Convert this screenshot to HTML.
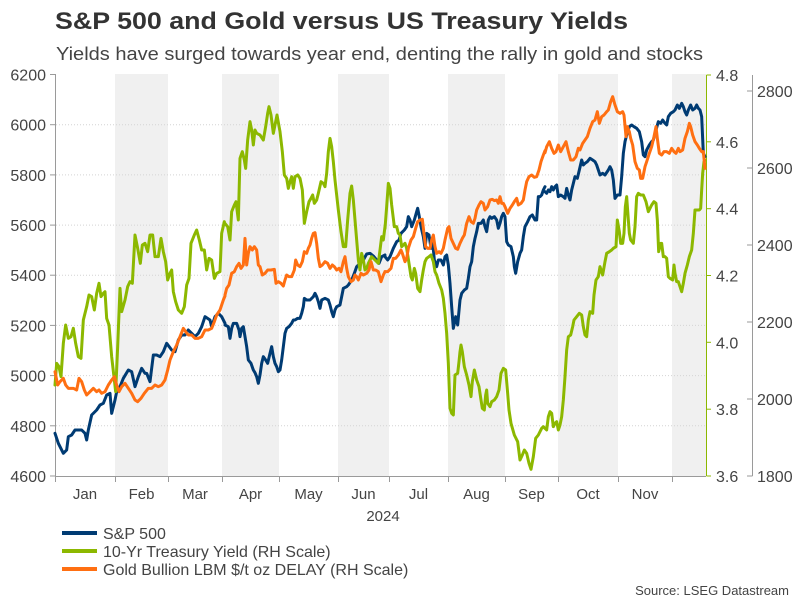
<!DOCTYPE html>
<html>
<head>
<meta charset="utf-8">
<style>
html,body{margin:0;padding:0;background:#fff;}
svg{display:block;font-family:"Liberation Sans",Arial,sans-serif;}
</style>
</head>
<body>
<svg width="801" height="601" viewBox="0 0 801 601" xmlns="http://www.w3.org/2000/svg">
<rect width="801" height="601" fill="#fff"/>
<!-- Title -->
<text x="55" y="29" font-size="24" font-weight="bold" fill="#333" textLength="573" lengthAdjust="spacingAndGlyphs">S&amp;P 500 and Gold versus US Treasury Yields</text>
<text x="56" y="60" font-size="18" fill="#444" textLength="647" lengthAdjust="spacingAndGlyphs">Yields have surged towards year end, denting the rally in gold and stocks</text>

<!-- shaded bands -->
<g fill="#f0f0f0">
<rect x="115" y="74" width="53" height="402"/>
<rect x="222" y="74" width="57" height="402"/>
<rect x="338" y="74" width="51" height="402"/>
<rect x="448" y="74" width="57" height="402"/>
<rect x="558" y="74" width="60" height="402"/>
<rect x="672" y="74" width="34" height="402"/>
</g>

<!-- grid -->
<g stroke="#d4d4d4" stroke-width="1" stroke-dasharray="1,2">
<line x1="56" x2="706" y1="124.7" y2="124.7"/>
<line x1="56" x2="706" y1="174.9" y2="174.9"/>
<line x1="56" x2="706" y1="225.1" y2="225.1"/>
<line x1="56" x2="706" y1="275.2" y2="275.2"/>
<line x1="56" x2="706" y1="325.4" y2="325.4"/>
<line x1="56" x2="706" y1="375.6" y2="375.6"/>
<line x1="56" x2="706" y1="425.8" y2="425.8"/>
</g>

<!-- left axis -->
<g stroke="#9a9a9a" stroke-width="1">
<line x1="55.5" x2="55.5" y1="74" y2="476"/>
<line x1="50" x2="55.5" y1="74.5" y2="74.5"/>
<line x1="50" x2="55.5" y1="124.7" y2="124.7"/>
<line x1="50" x2="55.5" y1="174.9" y2="174.9"/>
<line x1="50" x2="55.5" y1="225.1" y2="225.1"/>
<line x1="50" x2="55.5" y1="275.2" y2="275.2"/>
<line x1="50" x2="55.5" y1="325.4" y2="325.4"/>
<line x1="50" x2="55.5" y1="375.6" y2="375.6"/>
<line x1="50" x2="55.5" y1="425.8" y2="425.8"/>
<line x1="50" x2="55.5" y1="476" y2="476"/>
<!-- bottom axis -->
<line x1="55" x2="706" y1="476.5" y2="476.5"/>
<line x1="55.5" x2="55.5" y1="476" y2="482"/>
<line x1="115.5" x2="115.5" y1="476" y2="482"/>
<line x1="168.5" x2="168.5" y1="476" y2="482"/>
<line x1="222.5" x2="222.5" y1="476" y2="482"/>
<line x1="279.5" x2="279.5" y1="476" y2="482"/>
<line x1="338.5" x2="338.5" y1="476" y2="482"/>
<line x1="389.5" x2="389.5" y1="476" y2="482"/>
<line x1="448.5" x2="448.5" y1="476" y2="482"/>
<line x1="505.5" x2="505.5" y1="476" y2="482"/>
<line x1="558.5" x2="558.5" y1="476" y2="482"/>
<line x1="618.5" x2="618.5" y1="476" y2="482"/>
<line x1="672.5" x2="672.5" y1="476" y2="482"/>
<!-- far right gray axis -->
<line x1="752.5" x2="752.5" y1="75" y2="476"/>
<line x1="747" x2="752.5" y1="91" y2="91"/>
<line x1="747" x2="752.5" y1="168" y2="168"/>
<line x1="747" x2="752.5" y1="245" y2="245"/>
<line x1="747" x2="752.5" y1="322" y2="322"/>
<line x1="747" x2="752.5" y1="399" y2="399"/>
<line x1="747" x2="752.5" y1="476" y2="476"/>
</g>
<!-- green axis -->
<g stroke="#8cb800" stroke-width="1">
<line x1="706.5" x2="706.5" y1="75" y2="476"/>
<line x1="706.5" x2="711" y1="75" y2="75"/>
<line x1="706.5" x2="711" y1="141.8" y2="141.8"/>
<line x1="706.5" x2="711" y1="208.7" y2="208.7"/>
<line x1="706.5" x2="711" y1="275.5" y2="275.5"/>
<line x1="706.5" x2="711" y1="342.3" y2="342.3"/>
<line x1="706.5" x2="711" y1="409.2" y2="409.2"/>
<line x1="706.5" x2="711" y1="476" y2="476"/>
</g>

<!-- left labels -->
<g font-size="16" fill="#444" text-anchor="end">
<text x="46" y="80.5">6200</text>
<text x="46" y="130.7">6000</text>
<text x="46" y="180.9">5800</text>
<text x="46" y="231.1">5600</text>
<text x="46" y="281.2">5400</text>
<text x="46" y="331.4">5200</text>
<text x="46" y="381.6">5000</text>
<text x="46" y="431.8">4800</text>
<text x="46" y="482">4600</text>
</g>
<!-- green axis labels -->
<g font-size="16" fill="#444">
<text x="716" y="81">4.8</text>
<text x="716" y="147.8">4.6</text>
<text x="716" y="214.7">4.4</text>
<text x="716" y="281.5">4.2</text>
<text x="716" y="348.3">4.0</text>
<text x="716" y="415.2">3.8</text>
<text x="716" y="482">3.6</text>
</g>
<!-- gray axis labels -->
<g font-size="16" fill="#444">
<text x="757" y="97">2800</text>
<text x="757" y="174">2600</text>
<text x="757" y="251">2400</text>
<text x="757" y="328">2200</text>
<text x="757" y="405">2000</text>
<text x="757" y="482">1800</text>
</g>

<!-- month labels -->
<g font-size="15" fill="#444" text-anchor="middle">
<text x="85" y="499">Jan</text>
<text x="141.5" y="499">Feb</text>
<text x="195" y="499">Mar</text>
<text x="250.5" y="499">Apr</text>
<text x="308.5" y="499">May</text>
<text x="363.5" y="499">Jun</text>
<text x="418.5" y="499">Jul</text>
<text x="476.5" y="499">Aug</text>
<text x="531.5" y="499">Sep</text>
<text x="588" y="499">Oct</text>
<text x="645" y="499">Nov</text>
<text x="383" y="521">2024</text>
</g>

<!-- series -->
<g fill="none" stroke-width="3" stroke-linejoin="round" stroke-linecap="round">
<!-- S&P 500 blue -->
<g stroke="#003b73">
<g transform="translate(55,80) scale(0.333333)"><polyline vector-effect="non-scaling-stroke" points="0,1060 10,1090 25,1120 35,1110 40,1070 50,1065 60,1050 80,1050 90,1060 95,1080 100,1050 110,1005 125,990 135,975 145,970 155,945 165,940 170,1000 180,960 185,935 195,920 205,895 220,870 230,875 240,920 250,890 260,865 270,880 275,880 285,905 295,825 305,825 315,830 325,815 335,790 350,810 360,815 370,780 380,765 390,765 400,750 410,760 420,770 430,760 440,740 450,710 465,720 470,740 480,710 490,700 500,710 510,730"/></g>
<g transform="translate(215,80) scale(0.333333)"><polyline vector-effect="non-scaling-stroke" points="30,735 40,740 45,775 50,745 55,730 65,730 72,750 75,770 80,745 85,740 90,770 95,800 100,840 108,850 115,870 120,878 125,890 130,910 135,885 140,850 145,830 152,840 158,850 165,820 170,800 175,830 180,850 185,860 190,875 195,870 200,840 205,800 210,760 215,745 222,740 230,730 235,720 240,720 248,715 255,715 260,700 265,680 268,655 275,660 285,660 295,650 300,640 305,650 310,665 315,685 320,660 330,655 340,660 345,675 350,695 355,710 360,690 365,680 375,675 380,650 385,625 395,620 400,615 410,600 418,580 425,560 435,550 445,540 455,522 465,520 475,528 485,540 492,550 500,530 510,525"/></g>
<g transform="translate(375,80) scale(0.333333)"><polyline vector-effect="non-scaling-stroke" points="30,530 38,540 45,530 55,505 65,485 72,480 78,460 88,450 95,440 100,410 105,420 110,440 118,420 125,395 128,385 132,405 138,440 145,470 150,505 155,460 162,465 168,505 172,475 178,540 185,560 190,540 198,540 205,555 210,530 215,525 220,555 225,610 230,680 235,745 242,710 248,735 255,660 260,640 268,630 275,625 280,595 285,560 290,545 295,500 300,475 305,455 310,430 318,430 325,420 330,440 335,455 340,420 345,410 350,415 358,410 365,420 370,445 375,430 380,410 385,400 390,410 395,485 400,495 408,500 415,530 418,560 422,580 428,545 435,520 440,510 445,470 450,440 458,425 465,410 472,405 480,420 485,420 490,350 495,350 500,345 505,330 510,320"/></g>
<g transform="translate(540,80) scale(0.333333)"><polyline vector-effect="non-scaling-stroke" points="15,335 20,340 25,330 30,335 35,320 40,330 45,320 50,315 55,350 62,345 70,350 75,355 80,325 85,345 90,360 95,330 100,310 105,290 112,295 118,270 125,240 130,255 135,250 142,245 150,235 158,240 165,245 170,255 175,270 180,285 188,280 195,285 205,270 210,260 215,270 220,300 225,355 232,345 240,345 245,290 250,220 255,185 260,165 268,140 275,135 282,140 290,145 298,155 305,185 310,225 315,230 320,210 328,195 335,185 340,180 348,150 355,125 362,130 368,120 375,130 380,135 385,110 392,100 400,95 405,90 412,75 418,85 425,70 430,80 435,95 440,105 445,90 452,75 458,90 465,85 470,75 475,85 480,90 485,110 490,220 495,230"/></g>
</g>
<!-- Treasury yield green -->
<g stroke="#8cb800">
<g transform="translate(55,80) scale(0.333333)"><polyline vector-effect="non-scaling-stroke" points="0,915 5,850 12,860 18,890 25,790 32,735 40,775 48,770 55,745 62,790 70,830 78,835 85,720 95,680 102,645 110,650 118,690 125,640 132,610 138,650 145,640 150,635 155,715 162,735 170,830 178,900 182,935 188,800 195,625 200,695 210,660 218,620 225,605 232,610 240,465 248,505 256,550 262,495 270,490 278,515 285,465 293,465 300,530 310,530 318,475 325,515 332,545 338,600 345,580 350,570 355,635 362,665 370,690 380,700 388,680 395,615 402,595 408,490 418,465 425,450 433,480 440,510 448,510 455,570 462,535 470,540 478,595 485,580 495,575 500,460 508,425"/></g>
<g transform="translate(215,80) scale(0.333333)"><polyline vector-effect="non-scaling-stroke" points="28,428 38,440 45,480 50,395 58,375 63,365 70,420 75,235 82,215 88,240 92,265 98,180 105,125 110,150 115,195 120,150 125,160 135,165 145,180 152,140 158,100 162,80 168,105 175,160 180,135 186,105 195,155 202,215 208,285 215,295 220,325 225,305 230,290 235,325 240,290 248,285 255,295 262,330 268,430 275,395 282,365 288,355 293,345 298,370 305,360 310,340 318,305 325,310 330,320 335,280 340,215 345,175 350,200 355,245 360,300 365,345 370,390 378,455 385,500 392,500 398,420 405,340 410,318 415,360 420,420 425,480 430,540 435,570 440,520 445,540 450,570 455,565 460,550 465,540 470,530 480,540 490,550 500,470 505,480 510,440"/></g>
<g transform="translate(375,80) scale(0.333333)"><polyline vector-effect="non-scaling-stroke" points="30,445 35,380 40,310 45,325 50,375 58,440 65,440 70,460 75,465 80,500 85,495 90,490 95,505 102,550 108,590 112,600 118,565 122,580 128,625 135,635 140,600 145,570 150,545 155,535 162,530 168,525 175,545 180,575 185,585 192,610 200,630 205,655 210,700 215,760 220,850 225,985 230,1000 235,1005 240,885 248,880 252,845 255,815 258,795 262,815 268,860 275,885 282,915 288,950 292,905 298,870 305,900 312,920 318,960 322,985 328,990 332,945 335,930 338,970 345,980 350,965 358,960 365,950 372,930 378,880 385,865 392,870 398,940 402,990 408,1030 418,1065 428,1085 435,1140 442,1125 448,1110 455,1120 462,1150 468,1168 475,1130 482,1075 490,1065 500,1045 505,1040 510,1045"/></g>
<g transform="translate(540,80) scale(0.333333)"><polyline vector-effect="non-scaling-stroke" points="15,1045 20,1050 25,1010 30,995 35,1000 40,1040 45,1030 50,1025 55,1050 60,1035 65,1010 70,960 75,890 80,810 85,770 92,765 98,740 102,720 110,710 118,700 125,705 130,740 135,765 140,770 145,720 150,695 158,700 162,645 168,600 175,590 180,560 188,585 195,545 200,520 208,515 215,510 220,505 228,500 232,420 238,455 242,490 248,490 252,460 256,380 260,350 265,420 268,460 272,480 280,490 285,440 290,350 295,340 302,345 310,345 318,365 325,395 330,385 335,375 342,365 348,370 352,420 356,515 362,490 365,490 370,530 375,530 380,535 385,590 390,595 398,600 402,555 405,580 410,605 415,605 420,620 425,635 430,610 435,580 442,555 448,530 455,510 460,460 465,390 470,390 478,390 482,385 485,330 488,280 492,245 495,240"/></g>
</g>
<!-- Gold orange -->
<g stroke="#ff6f12">
<g transform="translate(55,80) scale(0.333333)"><polyline vector-effect="non-scaling-stroke" points="0,875 8,915 15,905 25,895 32,915 40,925 55,925 65,930 72,895 80,905 88,930 95,945 105,935 115,925 125,935 132,930 140,940 150,935 160,915 170,900 178,890 185,915 192,935 200,920 210,910 220,925 230,940 240,960 248,965 258,955 268,940 280,925 290,925 300,915 310,920 320,915 330,900 338,870 345,840 355,815 365,795 375,770 385,745 392,755 400,765 410,765 420,775 430,775 440,770 450,750 460,750 470,745 478,725 485,705 495,690 505,660 510,648"/></g>
<g transform="translate(215,80) scale(0.333333)"><polyline vector-effect="non-scaling-stroke" points="30,645 35,625 42,615 50,580 58,575 65,560 72,550 78,565 85,555 90,475 95,555 100,520 105,500 112,510 118,500 125,510 130,555 135,560 142,585 150,580 158,570 168,570 178,568 183,610 190,605 198,610 205,618 210,600 215,585 222,590 230,590 238,570 242,540 248,555 255,560 262,545 268,515 275,520 280,505 285,495 290,475 295,460 300,458 305,490 310,535 315,560 322,555 330,545 338,550 345,565 352,555 358,560 365,570 372,565 378,575 385,545 390,530 395,565 400,590 408,605 415,600 420,585 425,590 430,600 438,580 445,585 455,580 462,570 468,545 475,570 482,570 490,575 498,605 505,585 510,575"/></g>
<g transform="translate(375,80) scale(0.333333)"><polyline vector-effect="non-scaling-stroke" points="30,575 38,575 48,565 55,535 62,535 70,525 78,510 82,520 90,545 95,535 100,505 108,480 115,470 122,445 128,425 135,420 142,418 148,470 152,500 158,505 165,505 170,480 175,465 180,500 185,520 192,515 198,520 205,505 210,480 218,445 222,440 228,475 235,490 242,505 248,508 255,490 262,475 268,465 275,430 282,410 288,425 295,430 300,415 305,390 312,375 318,365 325,370 330,390 338,380 345,360 352,358 358,362 365,360 370,370 375,350 380,370 385,370 390,380 398,400 405,385 412,375 418,365 425,355 430,375 438,370 445,360 450,330 455,305 462,290 470,285 478,292 485,290 492,270 498,245 505,225 510,212"/></g>
<g transform="translate(540,80) scale(0.333333)"><polyline vector-effect="non-scaling-stroke" points="15,218 20,200 28,185 35,205 42,220 48,215 55,195 62,215 70,200 78,185 85,215 92,240 100,240 108,230 115,205 120,210 128,190 135,180 142,170 150,145 158,125 165,120 172,95 178,130 185,110 192,105 200,95 205,90 212,65 218,50 225,75 232,95 240,100 248,95 252,105 258,170 262,140 268,155 272,175 278,195 285,245 292,265 298,270 302,295 308,295 315,260 320,245 328,220 335,200 342,170 348,140 352,175 358,220 365,225 372,215 380,215 388,220 395,205 402,215 408,220 415,205 420,215 428,210 435,175 442,155 448,130 452,140 458,165 465,185 472,195 478,205 485,215 490,215 495,265"/></g>
</g>
</g>

<!-- legend -->
<g stroke-width="4">
<line x1="62" x2="97" y1="533" y2="533" stroke="#003b73"/>
<line x1="62" x2="97" y1="551" y2="551" stroke="#8cb800"/>
<line x1="62" x2="97" y1="569" y2="569" stroke="#ff6f12"/>
</g>
<g font-size="16" fill="#444">
<text x="103" y="539">S&amp;P 500</text>
<text x="103" y="557">10-Yr Treasury Yield (RH Scale)</text>
<text x="103" y="575">Gold Bullion LBM $/t oz DELAY (RH Scale)</text>
</g>
<text x="789" y="595" font-size="13" fill="#444" text-anchor="end">Source: LSEG Datastream</text>
</svg>
</body>
</html>
